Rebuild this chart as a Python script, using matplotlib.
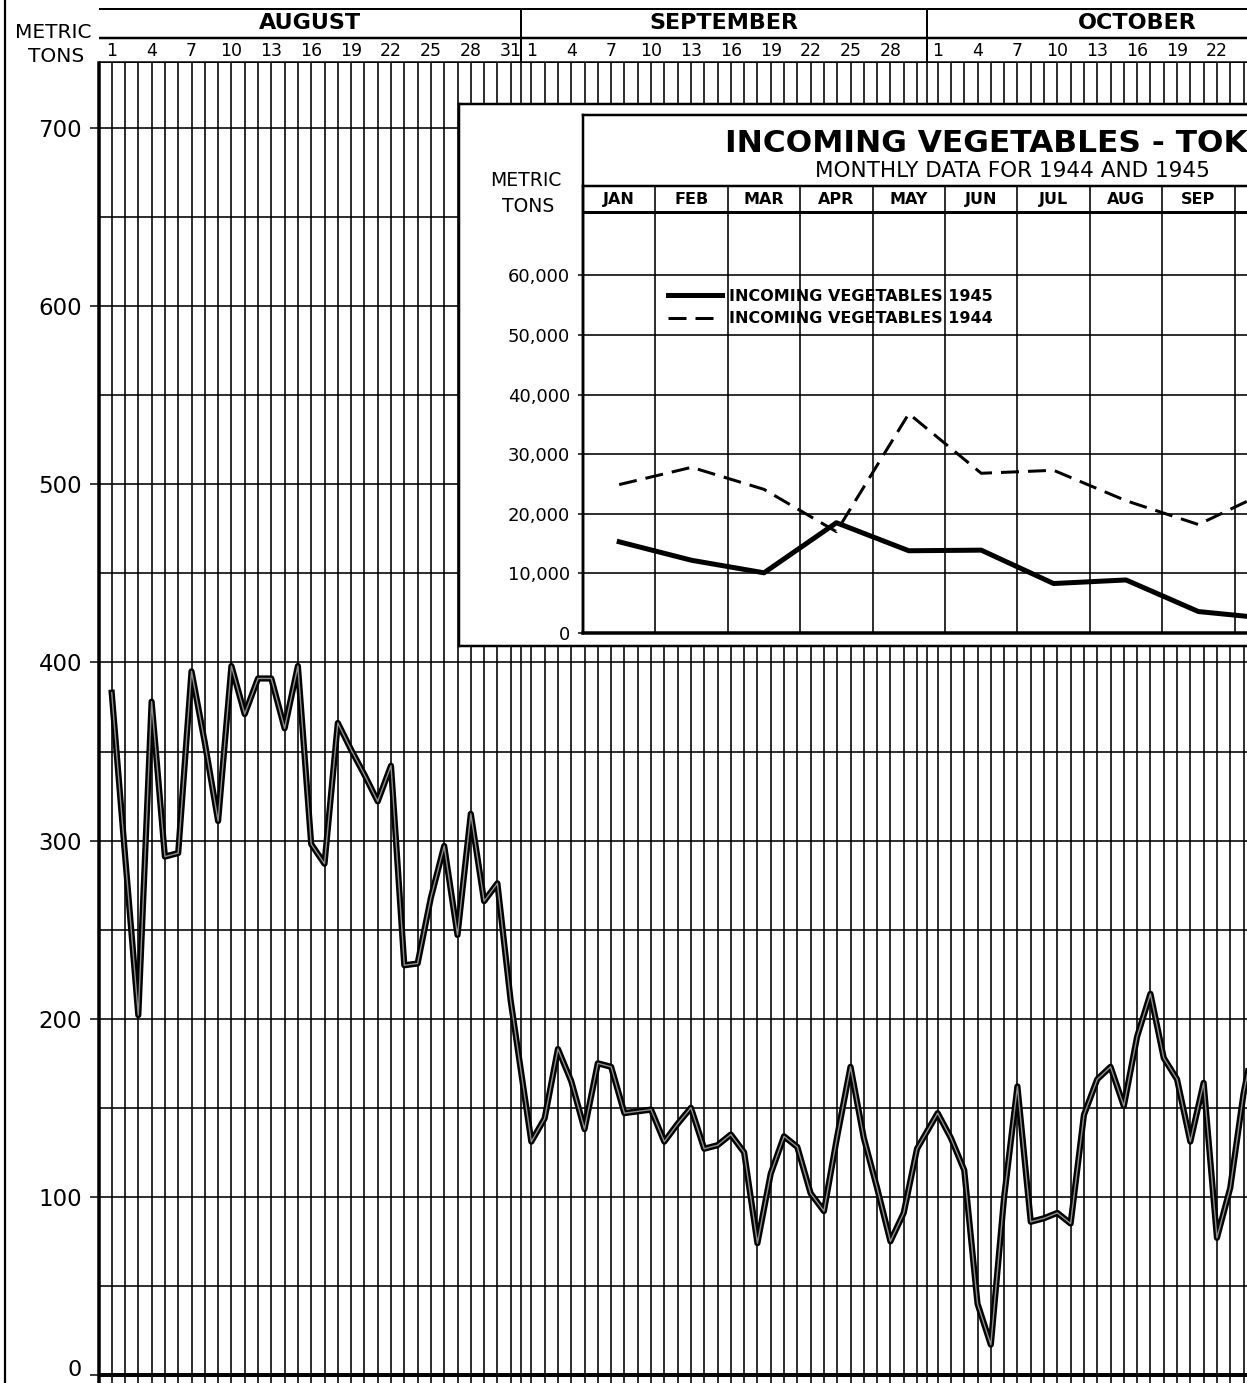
import matplotlib
matplotlib.use("Agg")
import matplotlib.pyplot as plt
import matplotlib.patheffects as pe
from matplotlib.ticker import FuncFormatter
import numpy as np

# ---------------- data ----------------
month_names = ["AUGUST", "SEPTEMBER", "OCTOBER"]
month_days = [31, 30, 31]
aug_tons = [383, 292, 202, 378, 291, 293, 395, 355, 311, 398, 371, 391, 391, 363, 398, 298,
            287, 366, 351, 337, 322, 342, 230, 231, 268, 297, 247, 315, 266, 276, 210]
sep_tons = [131, 144, 183, 165, 138, 175, 173, 147, 148, 149, 131, 141, 150, 127, 129, 135,
            125, 74, 113, 134, 128, 102, 92, 134, 173, 133, 105, 75, 91, 127]
oct_tons = [147, 133, 115, 40, 17, 100, 162, 86, 88, 91, 85, 146, 166, 173, 151, 190,
            214, 178, 166, 131, 164, 77, 105, 158, 195]
y_tick_values = [0, 100, 200, 300, 400, 500, 600, 700]

inset_months = ["JAN", "FEB", "MAR", "APR", "MAY", "JUN", "JUL", "AUG", "SEP", "OCT", "NOV", "DEC"]
veg_1945 = [15300, 12200, 10100, 18500, 13800, 13900, 8300, 8900, 3600, 2400]
veg_1944 = [24900, 27800, 24100, 17000, 36800, 26800, 27300, 22200, 18200, 24000]
inset_y_ticks = [0, 10000, 20000, 30000, 40000, 50000, 60000]
label_1945 = "INCOMING VEGETABLES 1945"
label_1944 = "INCOMING VEGETABLES 1944"
inset_title = "INCOMING VEGETABLES - TOKYO"
inset_subtitle = "MONTHLY DATA FOR 1944 AND 1945"

# ---------------- layout helpers ----------------
W, H, DPI = 1247, 1383, 100
PX = 72.0 / DPI  # points per pixel
plt.rcParams['font.family'] = ['DejaVu Sans']
fig = plt.figure(figsize=(W / DPI, H / DPI), dpi=DPI)
fig.patch.set_facecolor("white")


def rect(x0, y0, x1, y1):
    return [x0 / W, 1 - y1 / H, (x1 - x0) / W, (y1 - y0) / H]


GAP = 0.55            # blank space at each month boundary (in days)
X0, SX = 111.7, 13.3  # pixel of Aug 1, pixels per day
XL = (99 - X0) / SX
XR = (W - X0) / SX

starts = []
s = 0.0
for nd in month_days:
    starts.append(s)
    s += nd + GAP
day_pos = np.concatenate([st + np.arange(nd) for st, nd in zip(starts, month_days)])
seps = [st + nd - 1 + (1 + GAP) / 2 for st, nd in zip(starts, month_days)]

series = [aug_tons, sep_tons, oct_tons]
x_data = np.concatenate([st + np.arange(len(v)) for st, v in zip(starts, series)])
y_data = np.concatenate([np.asarray(v, float) for v in series])

# ---------------- background (left column) ----------------
ax_bg = fig.add_axes([0, 0, 1, 1], zorder=-1)
ax_bg.set_xlim(0, W)
ax_bg.set_ylim(H, 0)
ax_bg.axis("off")
ax_bg.plot([5, 5], [0, H], color="black", lw=2.2 * PX)
ax_bg.text(53, 32, "METRIC", ha="center", va="center", fontsize=14.5)
ax_bg.text(56, 57, "TONS", ha="center", va="center", fontsize=14.5)

# ---------------- main daily chart ----------------
YS = 1.7814
ax = fig.add_axes(rect(99, 63, W, H), zorder=1)
ax.set_facecolor("white")
ax.set_xlim(XL, XR)
ax.set_ylim(-8 / YS, (1375 - 63) / YS)
for side in ["top", "right", "bottom"]:
    ax.spines[side].set_visible(False)
ax.spines["left"].set_linewidth(3.5 * PX)
ax.vlines(day_pos, -50, 800, color="black", lw=1.6 * PX, zorder=1)
ax.vlines(seps, -50, 800, color="black", lw=1.6 * PX, zorder=1)
ax.hlines(np.arange(50, 701, 50), XL, XR, color="black", lw=1.6 * PX, zorder=1)
ax.axhline(0, color="black", lw=4 * PX, zorder=2)
ax.plot(x_data, y_data, color="#8f8f8f", lw=1.4 * PX, zorder=3,
        path_effects=[pe.Stroke(linewidth=6.2 * PX, foreground="black"), pe.Normal()])
ax.set_xticks([])
ax.set_yticks(y_tick_values)
ax.set_yticklabels([""] + [str(v) for v in y_tick_values[1:]])
ax.tick_params(axis="y", direction="out", length=9 * PX, width=1.5 * PX,
               pad=8 * PX, labelsize=16.5)
# zero label nudged up so it stays inside the picture, as in the reference
ax.text(-17 / (W - 99), 3.0, str(y_tick_values[0]), transform=ax.get_yaxis_transform(),
        ha="right", va="center", fontsize=16)

# ---------------- header (months / days) ----------------
axh = fig.add_axes(rect(99, 8, W, 63), zorder=1)
axh.set_xlim(XL, XR)
axh.set_ylim(0, 55)
axh.axis("off")
axh.axhline(55, color="black", lw=3 * PX)
axh.axhline(25, color="black", lw=2.5 * PX)
axh.axhline(0, color="black", lw=3.5 * PX)
axh.vlines(seps, 0, 55, color="black", lw=2 * PX)
bounds = [XL] + seps
for i, name in enumerate(month_names):
    axh.text((bounds[i] + bounds[i + 1]) / 2, 40, name, ha="center", va="center",
             fontsize=16, fontweight="bold")
    for d in range(1, month_days[i] + 1, 3):
        xd = starts[i] + d - 1
        if xd < XR - 0.4:
            axh.text(xd, 12, str(d), ha="center", va="center", fontsize=12.5)

# ---------------- inset box ----------------
ax_box = fig.add_axes(rect(459, 104, 1500, 646), zorder=2)
ax_box.set_facecolor("white")
ax_box.set_xlim(459, 1500)
ax_box.set_ylim(646, 104)
ax_box.set_xticks([])
ax_box.set_yticks([])
for sp in ax_box.spines.values():
    sp.set_linewidth(2.5 * PX)
ax_box.plot([583, 1500], [115, 115], color="black", lw=2.5 * PX)
ax_box.plot([583, 583], [115, 633], color="black", lw=2.5 * PX)
ax_box.text(526, 181, "METRIC", ha="center", va="center", fontsize=13.5)
ax_box.text(528, 207, "TONS", ha="center", va="center", fontsize=13.5)
ax_box.text(1010, 143, inset_title, ha="center", va="center", fontsize=22.5, fontweight="bold")
ax_box.text(1012, 171, inset_subtitle, ha="center", va="center", fontsize=15.5)

CW = 72.4
visible_cols = (W - 583) / CW
ax_in = fig.add_axes(rect(583, 186, 583 + 12 * CW, 633), zorder=3)
ax_in.set_facecolor("none")
ax_in.set_xlim(0, 12)
ax_in.set_ylim(0, 75000)
ax_in.spines["right"].set_visible(False)
ax_in.spines["left"].set_linewidth(2.5 * PX)
ax_in.spines["top"].set_linewidth(2.5 * PX)
ax_in.spines["bottom"].set_linewidth(3.5 * PX)
ax_in.vlines(np.arange(1, 12), 0, 75000, color="black", lw=1.6 * PX)
ax_in.hlines(inset_y_ticks[1:], 0, 12, color="black", lw=1.6 * PX)
ax_in.axhline(70600, color="black", lw=3 * PX)
for i, m in enumerate(inset_months):
    if i + 0.5 < visible_cols:
        ax_in.text(i + 0.5, 72800, m, ha="center", va="center", fontsize=11.5,
                   fontweight="bold")

x45 = np.arange(len(veg_1945)) + 0.5
x44 = np.arange(len(veg_1944)) + 0.5
l45, = ax_in.plot(x45, veg_1945, color="black", lw=5 * PX, label=label_1945)
l44, = ax_in.plot(x44, veg_1944, color="black", lw=3 * PX, dashes=(6, 3), label=label_1944)
ax_in.set_xticks([])
ax_in.set_yticks(inset_y_ticks)
ax_in.yaxis.set_major_formatter(FuncFormatter(lambda v, p: f"{int(v):,}"))
ax_in.tick_params(axis="y", direction="out", length=5 * PX, width=1.5 * PX,
                  pad=8 * PX, labelsize=13)
ax_in.legend(handles=[l45, l44], loc="upper left",
             bbox_to_anchor=(668 / W, 1 - 289 / H), bbox_transform=fig.transFigure,
             frameon=False, prop={"size": 11.5, "weight": "bold"},
             handlelength=3.4, handletextpad=0.45, labelspacing=0.45,
             borderpad=0, borderaxespad=0)

fig.savefig("out.png", dpi=DPI, facecolor="white")
